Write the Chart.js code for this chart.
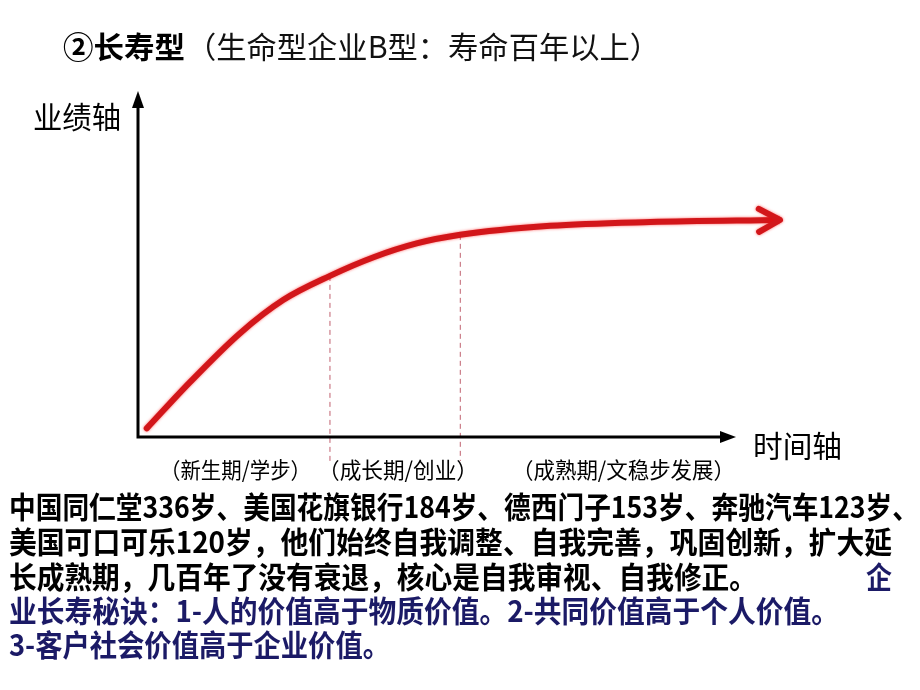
<!DOCTYPE html>
<html>
<head>
<meta charset="utf-8">
<script src="https://cdn.jsdelivr.net/npm/chart.js@4/dist/chart.umd.min.js"></script>
<style>
  html, body { margin: 0; padding: 0; background: #fff; }
  #wrap { width: 920px; height: 690px; }
</style>
</head>
<body>
<div id="wrap"><canvas id="lifeChart" width="920" height="690"></canvas></div>
<script>
// Curve data (time axis 0-100, performance axis 0-100)
const timeValues = [1.36, 8.1, 15.9, 22.6, 29.9, 36.7, 43.4, 50.2, 64.2, 79.8, 100]
const performanceValues = [2.5, 15.9, 30.1, 39.7, 46.7, 52.1, 56.1, 58.6, 61.2, 62.3, 62.9]
// where the phases change (time values)
const phaseBoundaries = [29.9, 50.2]
const phaseLabels = ["（新生期/学步）", "（成长期/创业）", "（成熟期/文稳步发展）"]

const titleBold = "②长寿型"
const titleRest = "（生命型企业B型：寿命百年以上）"
const yAxisLabel = "业绩轴"
const xAxisLabel = "时间轴"

const bodyLines = [
  "中国同仁堂336岁、美国花旗银行184岁、德西门子153岁、奔驰汽车123岁、",
  "美国可口可乐120岁，他们始终自我调整、自我完善，巩固创新，扩大延",
  "长成熟期，几百年了没有衰退，核心是自我审视、自我修正。",
]
const blueLines = [
  "企",
  "业长寿秘诀：1-人的价值高于物质价值。2-共同价值高于个人价值。",
  "3-客户社会价值高于企业价值。",
]

const CJK = '"Noto Sans CJK SC", "Noto Sans", sans-serif'

// draw text squeezed/stretched to a given width
function fitText(ctx, text, x, y, font, width, color) {
  ctx.save()
  ctx.font = font
  ctx.fillStyle = color
  ctx.textBaseline = "middle"
  ctx.textAlign = "left"
  const w = ctx.measureText(text).width
  ctx.translate(x, y)
  ctx.scale(width / w, 1)
  ctx.fillText(text, 0, 0)
  ctx.restore()
}

const decorPlugin = {
  id: "decor",
  beforeDatasetsDraw(chart) {
    const ctx = chart.ctx
    const xs = chart.scales.x
    const ys = chart.scales.y
    const x0 = xs.getPixelForValue(0)
    const y0 = ys.getPixelForValue(0)

    // dashed phase lines
    ctx.save()
    ctx.strokeStyle = "#c0606e"
    ctx.lineWidth = 1
    ctx.setLineDash([5, 4])
    phaseBoundaries.forEach((t) => {
      const i = timeValues.indexOf(t)
      const px = xs.getPixelForValue(t)
      const py = ys.getPixelForValue(performanceValues[i])
      ctx.beginPath()
      ctx.moveTo(px, py)
      ctx.lineTo(px, 461)
      ctx.stroke()
    })
    ctx.restore()

    // axes with arrows
    ctx.save()
    ctx.strokeStyle = "#000"
    ctx.fillStyle = "#000"
    ctx.lineWidth = 3
    ctx.beginPath()
    ctx.moveTo(x0, y0 + 1.5)
    ctx.lineTo(x0, 104)
    ctx.moveTo(x0 - 1.5, y0)
    ctx.lineTo(724, y0)
    ctx.stroke()
    ctx.beginPath()
    ctx.moveTo(x0, 91)
    ctx.lineTo(x0 - 6, 108)
    ctx.lineTo(x0 + 6, 108)
    ctx.closePath()
    ctx.fill()
    ctx.beginPath()
    ctx.moveTo(736, y0)
    ctx.lineTo(720, y0 - 6)
    ctx.lineTo(720, y0 + 6)
    ctx.closePath()
    ctx.fill()
    ctx.restore()
  },
  afterDatasetsDraw(chart) {
    const ctx = chart.ctx
    const pts = chart.getDatasetMeta(0).data
    const tip = pts[pts.length - 1]
    const prev = pts[pts.length - 2]
    const ang = Math.atan2(tip.y - prev.y, tip.x - prev.x)
    const len = 24
    const spread = 0.5
    ctx.save()
    ctx.strokeStyle = "#d2161a"
    ctx.lineWidth = 6
    ctx.lineCap = "round"
    ctx.lineJoin = "round"
    ctx.shadowColor = "rgba(255,0,0,0.6)"
    ctx.shadowBlur = 3
    ctx.beginPath()
    ctx.moveTo(tip.x - len * Math.cos(ang - spread), tip.y - len * Math.sin(ang - spread))
    ctx.lineTo(tip.x, tip.y)
    ctx.lineTo(tip.x - len * Math.cos(ang + spread), tip.y - len * Math.sin(ang + spread))
    ctx.stroke()
    ctx.restore()
  },
  afterDraw(chart) {
    const ctx = chart.ctx
    // title
    fitText(ctx, titleBold, 63, 47, "bold 30px " + CJK, 122, "#000")
    fitText(ctx, titleRest, 186, 47, "30px " + CJK, 474, "#111")
    // axis labels
    fitText(ctx, yAxisLabel, 33, 117, "30px " + CJK, 88, "#000")
    fitText(ctx, xAxisLabel, 753, 446, "30px " + CJK, 89, "#000")
    // phase labels
    fitText(ctx, phaseLabels[0], 160, 470, "22px " + CJK, 151, "#000")
    fitText(ctx, phaseLabels[1], 318, 470, "22px " + CJK, 160, "#000")
    fitText(ctx, phaseLabels[2], 512, 470, "22px " + CJK, 223, "#000")
    // body text
    const bold = "bold 30px " + CJK
    fitText(ctx, bodyLines[0], 9, 507, bold, 910, "#000")
    fitText(ctx, bodyLines[1], 9, 542, bold, 883, "#000")
    fitText(ctx, bodyLines[2], 9, 577, bold, 748, "#000")
    fitText(ctx, blueLines[0], 866, 577, bold, 26, "#1b1a66")
    fitText(ctx, blueLines[1], 9, 611, bold, 830, "#1b1a66")
    fitText(ctx, blueLines[2], 9, 645, bold, 381, "#1b1a66")
  },
}

const glowPlugin = {
  id: "glow",
  beforeDatasetDraw(chart) {
    chart.ctx.save()
    chart.ctx.shadowColor = "rgba(255,0,0,0.6)"
    chart.ctx.shadowBlur = 3
  },
  afterDatasetDraw(chart) {
    chart.ctx.restore()
  },
}

const ctx = document.getElementById("lifeChart")
new Chart(ctx, {
  type: "line",
  data: {
    datasets: [
      {
        data: timeValues.map((t, i) => ({ x: t, y: performanceValues[i] })),
        borderColor: "#d2161a",
        borderWidth: 6,
        borderCapStyle: "round",
        pointRadius: 0,
        cubicInterpolationMode: "monotone",
        fill: false,
      },
    ],
  },
  options: {
    responsive: false,
    animation: false,
    layout: { padding: { left: 138, right: 140, top: 92, bottom: 253 } },
    plugins: { legend: { display: false }, tooltip: { enabled: false } },
    scales: {
      x: { type: "linear", min: 0, max: 100, display: false },
      y: { type: "linear", min: 0, max: 100, display: false },
    },
  },
  plugins: [glowPlugin, decorPlugin],
})
</script>
</body>
</html>
